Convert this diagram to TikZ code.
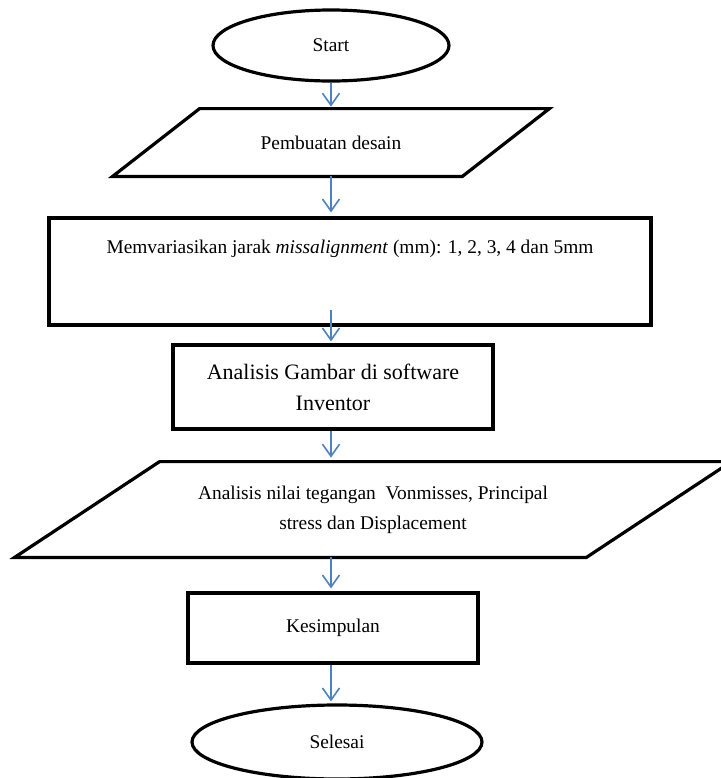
\documentclass[tikz,border=0pt]{standalone}
\usepackage{fontspec}
\setmainfont{Liberation Serif}
\usepackage{xcolor}
\usetikzlibrary{shapes.geometric, arrows.meta, positioning}
\definecolor{flowblue}{RGB}{79,129,189}

\begin{document}
\begin{tikzpicture}[
    x=0.5pt, y=-0.5pt,
    every node/.style={font=\fontsize{9.7}{15}\selectfont, align=center},
    terminal/.style={ellipse, draw, line width=1.6pt},
    process/.style={rectangle, draw, line width=1.6pt},
    io/.style={rectangle},
    outline/.style={line width=1.6pt},
    flow/.style={flowblue, line width=0.8pt, -{Straight Barb[length=6pt, width=8.5pt]}}
]
\useasboundingbox (0,0) rectangle (720,778);

% shapes
\node[terminal, minimum width=118pt, minimum height=35.5pt] (start) at (331,45.5) {Start};
\node[io, minimum width=174.5pt, minimum height=33.5pt] (desain) at (331,142.5) {Pembuatan desain};
\node[process, minimum width=301pt, minimum height=53.5pt] (vary) at (350,271.5) {};
\node (varytext) at (350,249) {Memvariasikan jarak \textit{missalignment} (mm): 1, 2, 3, 4 dan 5mm};
\node[process, minimum width=160pt, minimum height=42pt, font=\fontsize{11}{15.5}\selectfont] (analisis) at (333,387) {Analisis Gambar di software\\Inventor};
\node[io, minimum width=285.5pt, minimum height=47.5pt] (analisa) at (373,509.5) {Analisis nilai tegangan~ Vonmisses, Principal\\stress dan Displacement};
\node[process, minimum width=145pt, minimum height=35pt] (kesimpulan) at (333,628) {Kesimpulan};
\node[terminal, minimum width=145pt, minimum height=37pt] (selesai) at (337,742) {Selesai};

% parallelograms
\draw[outline] ([xshift=21.75pt]desain.north west) -- ([xshift=21.75pt]desain.north east)
    -- ([xshift=-21.75pt]desain.south east) -- ([xshift=-21.75pt]desain.south west) -- cycle;
\draw[outline] ([xshift=36.25pt]analisa.north west) -- ([xshift=36.25pt]analisa.north east)
    -- ([xshift=-36.25pt]analisa.south east) -- ([xshift=-36.25pt]analisa.south west) -- cycle;

% arrows
\draw[flow, shorten >=1pt] (start.south) -- (start.south |- desain.north);
\draw[flow, shorten >=2pt] (desain.south) -- (desain.south |- vary.north);
\draw[flow, shorten >=1pt] ([yshift=8.5pt]vary.south -| desain.south) -- (desain.south |- analisis.north);
\draw[flow, shorten >=2pt] (desain.south |- analisis.south) -- (desain.south |- analisa.north);
\draw[flow, shorten >=1.5pt] (desain.south |- analisa.south) -- (desain.south |- kesimpulan.north);
\draw[flow, shorten >=1pt] (desain.south |- kesimpulan.south) -- (desain.south |- selesai.north);
\end{tikzpicture}
\end{document}
